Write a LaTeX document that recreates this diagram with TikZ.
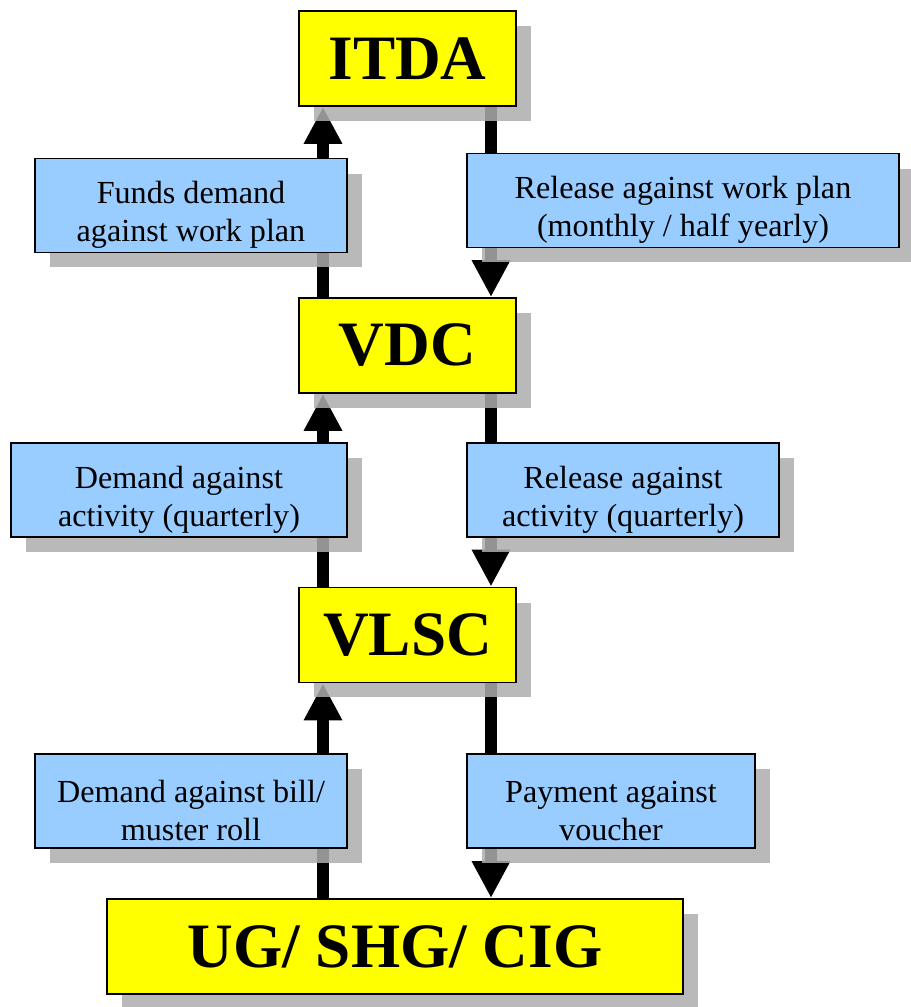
\documentclass[tikz,border=0pt]{standalone}
\usepackage{fontspec}
\setmainfont{Liberation Serif}
\usetikzlibrary{arrows.meta,shadows,backgrounds}

\newcommand{\topstrut}{\rule{0pt}{23.5pt}}
\tikzset{
  boxshadow/.style={drop shadow={shadow xshift=0.3cm,shadow yshift=-0.3cm,fill=black!32,opacity=0.85}},
  bigbox/.style={draw=black,line width=1.1pt,fill={rgb,255:red,255;green,255;blue,0},boxshadow,inner sep=0pt,
    minimum height=1.9cm,font=\fontsize{36}{40}\selectfont\bfseries},
  infobox/.style={draw=black,line width=1.1pt,fill={rgb,255:red,153;green,204;blue,255},boxshadow,
    inner sep=0pt,minimum height=1.88cm,align=center,font=\fontsize{18.3}{21.5}\selectfont},
  flow/.style={line width=6.8pt,-{Triangle[width=20.5pt,length=21pt]}}
}

\begin{document}
\begin{tikzpicture}[x=0.02cm,y=-0.02cm]
    \useasboundingbox (0,0) rectangle (911,1007);
    \node[bigbox,minimum width=4.34cm](itda) at (407.5,58.5)  {ITDA};
    \node[infobox,minimum width=6.24cm](funds) at (191,205.5)  {\topstrut Funds demand\\against work plan};
    \node[infobox,minimum width=8.64cm](relplan) at (683,200.5)  {\topstrut Release against work plan\\(monthly / half yearly)};
    \node[bigbox,minimum width=4.34cm](vdc) at (407.5,345.5)  {VDC};
    \node[infobox,minimum width=6.72cm](demact) at (179,490)  {\topstrut Demand against\\activity (quarterly)};
    \node[infobox,minimum width=6.24cm](relact) at (623,490)  {\topstrut Release against\\activity (quarterly)};
    \node[bigbox,minimum width=4.34cm](vlsc) at (407.5,635)  {VLSC};
    \node[infobox,minimum width=6.24cm](dembill) at (191,801)  {\topstrut Demand against bill/\\muster roll};
    \node[infobox,minimum width=5.76cm](payment) at (611,801)  {\topstrut Payment against\\voucher};
    \node[bigbox,minimum width=11.52cm](ug) at (395,946.5)  {UG/ SHG/ CIG};
    \coordinate(up) at (323,0);
    \coordinate(down) at (491,0);
    \begin{pgfonlayer}{background}
    \draw[flow] (up |- vdc.north) to (up |- itda.south);
    \draw[flow] (down |- itda.south) to (down |- vdc.north);
    \draw[flow] (up |- vlsc.north) to (up |- vdc.south);
    \draw[flow] (down |- vdc.south) to (down |- vlsc.north);
    \draw[flow] (up |- ug.north) to (up |- vlsc.south);
    \draw[flow] (down |- vlsc.south) to (down |- ug.north);
    \end{pgfonlayer}
    \end{tikzpicture}
\end{document}
